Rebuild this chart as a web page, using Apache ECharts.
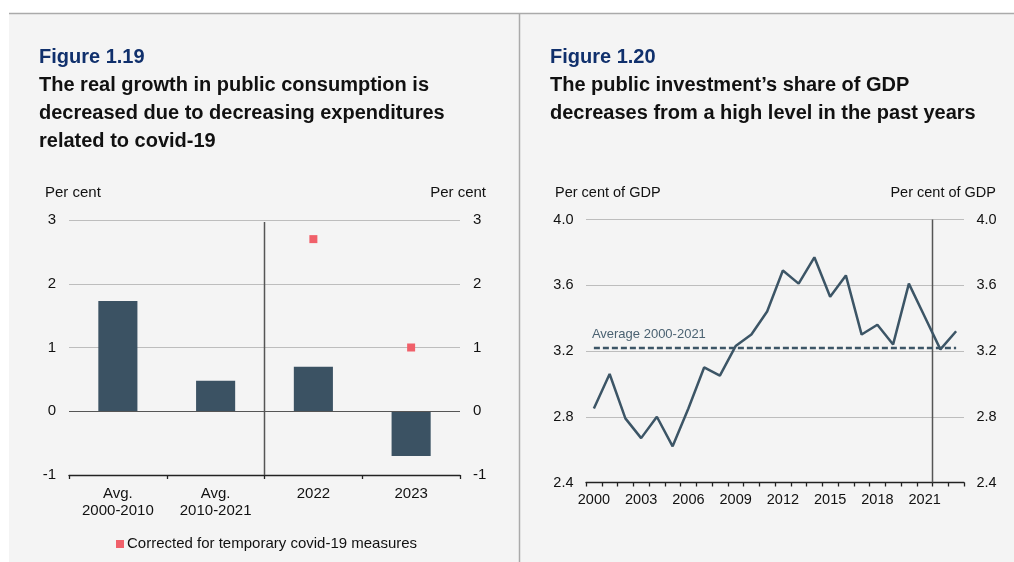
<!DOCTYPE html>
<html>
<head>
<meta charset="utf-8">
<title>Figures 1.19 and 1.20</title>
<script src="https://cdn.jsdelivr.net/npm/echarts@6/dist/echarts.min.js"></script>
<style>
  html, body { margin: 0; padding: 0; background: #ffffff; }
  #chart { width: 1014px; height: 562px; }
</style>
</head>
<body>
<div id="chart"></div>
<script>
// Figure 1.19: real growth in public consumption (per cent)
const consumptionCategories = ['Avg.\n2000-2010', 'Avg.\n2010-2021', '2022', '2023'];
const consumptionGrowth = [1.73, 0.48, 0.70, -0.70];
const correctedGrowth = [null, null, 2.70, 1.00];
const consumptionTicks = { min: -1, max: 3, interval: 1 };

// Figure 1.20: public investment, per cent of GDP
const investmentYears = ['2000', '2001', '2002', '2003', '2004', '2005', '2006', '2007',
  '2008', '2009', '2010', '2011', '2012', '2013', '2014', '2015', '2016', '2017',
  '2018', '2019', '2020', '2021', '2022', '2023'];
const investmentShare = [2.85, 3.06, 2.79, 2.67, 2.80, 2.62, 2.85, 3.10, 3.05, 3.23,
  3.30, 3.44, 3.69, 3.61, 3.77, 3.53, 3.66, 3.30, 3.36, 3.24, 3.61, 3.41, 3.21, 3.32];
const investmentAverage = 3.22;
const investmentTicks = { min: 2.4, max: 4.0, interval: 0.4 };

// Position of the forecast divider, counted in category widths from the left edge
const consumptionDividerAt = 2;
const investmentDividerAt = 22;

const FONT = '"Liberation Sans", Arial, Helvetica, sans-serif';
const DARK = '#3b5263';
const RED = '#f0606a';
const GRIDLINE = '#bdbdbd';

const chart = echarts.init(document.getElementById('chart'), null, { renderer: 'canvas' });

function headingText(x, y, text, color) {
  return {
    type: 'text', left: x, top: y - 9,
    style: { text: text, fill: color, font: 'bold 20px ' + FONT, textVerticalAlign: 'top' }
  };
}
function unitText(x, y, text, align, size) {
  return {
    type: 'text', x: x, y: y,
    style: { text: text, fill: '#111', font: size + 'px ' + FONT, align: align, verticalAlign: 'middle' }
  };
}

const option = {
  backgroundColor: '#ffffff',
  animation: false,
  textStyle: { fontFamily: FONT },
  graphic: [
    { type: 'rect', shape: { x: 9, y: 13, width: 1005, height: 549 }, style: { fill: '#f4f4f4' }, z: -10 },
    { type: 'line', shape: { x1: 9, y1: 13.5, x2: 1014, y2: 13.5 }, style: { stroke: '#aaaaaa', lineWidth: 1.5 }, z: -9 },
    { type: 'line', shape: { x1: 519.5, y1: 13, x2: 519.5, y2: 562 }, style: { stroke: '#aaaaaa', lineWidth: 1.5 }, z: -9 },
    headingText(39, 56, 'Figure 1.19', '#10306c'),
    headingText(39, 84.7, 'The real growth in public consumption is', '#111111'),
    headingText(39, 112.7, 'decreased due to decreasing expenditures', '#111111'),
    headingText(39, 140.7, 'related to covid-19', '#111111'),
    headingText(550, 56, 'Figure 1.20', '#10306c'),
    headingText(550, 84.7, 'The public investment\u2019s share of GDP', '#111111'),
    headingText(550, 112.7, 'decreases from a high level in the past years', '#111111'),
    unitText(45, 193, 'Per cent', 'left', 15),
    unitText(486, 193, 'Per cent', 'right', 15),
    unitText(555, 193, 'Per cent of GDP', 'left', 14.5),
    unitText(996, 193, 'Per cent of GDP', 'right', 14.5)
  ],
  legend: {
    data: [{ name: 'Corrected for temporary covid-19 measures', icon: 'rect' }],
    left: 116, top: 536.5, padding: 0,
    itemWidth: 8, itemHeight: 8, itemGap: 10,
    textStyle: { fontSize: 15, color: '#111', fontFamily: FONT, padding: [0, 0, 0, -2] },
    selectedMode: false
  },
  grid: [
    { left: 69, top: 220, width: 391, height: 255 },
    { left: 586, top: 219.5, width: 378, height: 263 }
  ],
  xAxis: [
    {
      type: 'category', gridIndex: 0, data: consumptionCategories, boundaryGap: true,
      axisLine: { onZero: false, lineStyle: { color: '#222', width: 1.3 } },
      axisTick: { show: true, length: 4, lineStyle: { color: '#222', width: 1.3 } },
      axisLabel: { color: '#111', fontSize: 15, lineHeight: 17, margin: 10, interval: 0 }
    },
    { type: 'value', gridIndex: 0, min: 0, max: consumptionCategories.length, show: false },
    {
      type: 'category', gridIndex: 1, data: investmentYears, boundaryGap: true,
      axisLine: { onZero: false, lineStyle: { color: '#222', width: 1.3 } },
      axisTick: { show: true, length: 4, interval: 0, lineStyle: { color: '#222', width: 1.3 } },
      axisLabel: { color: '#111', fontSize: 14.5, margin: 10, interval: 2 }
    },
    { type: 'value', gridIndex: 1, min: 0, max: investmentYears.length, show: false }
  ],
  yAxis: [
    {
      type: 'value', gridIndex: 0, position: 'left',
      min: consumptionTicks.min, max: consumptionTicks.max, interval: consumptionTicks.interval,
      axisLine: { show: false }, axisTick: { show: false },
      axisLabel: { color: '#111', fontSize: 15, margin: 13 },
      splitLine: { show: true, lineStyle: { color: GRIDLINE, width: 1 } }
    },
    {
      type: 'value', gridIndex: 0, position: 'right',
      min: consumptionTicks.min, max: consumptionTicks.max, interval: consumptionTicks.interval,
      axisLine: { show: false }, axisTick: { show: false },
      axisLabel: { color: '#111', fontSize: 15, margin: 13 },
      splitLine: { show: false }
    },
    {
      type: 'value', gridIndex: 1, position: 'left',
      min: investmentTicks.min, max: investmentTicks.max, interval: investmentTicks.interval,
      axisLine: { show: false }, axisTick: { show: false },
      axisLabel: { color: '#111', fontSize: 14.5, margin: 12.5, formatter: v => v.toFixed(1) },
      splitLine: { show: true, lineStyle: { color: GRIDLINE, width: 1 } }
    },
    {
      type: 'value', gridIndex: 1, position: 'right',
      min: investmentTicks.min, max: investmentTicks.max, interval: investmentTicks.interval,
      axisLine: { show: false }, axisTick: { show: false },
      axisLabel: { color: '#111', fontSize: 14.5, margin: 12.5, formatter: v => v.toFixed(1) },
      splitLine: { show: false }
    }
  ],
  series: [
    {
      name: 'Public consumption growth', type: 'bar',
      xAxisIndex: 0, yAxisIndex: 0,
      data: consumptionGrowth, barWidth: '40%',
      itemStyle: { color: DARK },
      z: 3,
      markLine: {
        silent: true, symbol: 'none', label: { show: false },
        lineStyle: { color: '#555', width: 1.2, type: 'solid' },
        data: [{ yAxis: 0 }]
      }
    },
    {
      name: 'Corrected for temporary covid-19 measures', type: 'scatter',
      xAxisIndex: 0, yAxisIndex: 0,
      data: correctedGrowth, symbol: 'rect', symbolSize: 8,
      itemStyle: { color: RED, opacity: 1 }, z: 5
    },
    {
      name: 'divider-1', type: 'line', xAxisIndex: 1, yAxisIndex: 0,
      data: [[consumptionDividerAt, consumptionTicks.min], [consumptionDividerAt, 2.97]],
      symbol: 'none', silent: true,
      lineStyle: { color: '#555', width: 1.5 }, z: 4
    },
    {
      name: 'Public investment', type: 'line',
      xAxisIndex: 2, yAxisIndex: 2,
      data: investmentShare, symbol: 'none',
      lineStyle: { color: '#3c5566', width: 2.5 },
      itemStyle: { color: '#3c5566' },
      z: 5,
      markLine: {
        silent: true, symbol: 'none',
        lineStyle: { color: '#3c5566', width: 2.3, type: [6, 3] },
        label: {
          show: true, position: 'insideStartTop', formatter: 'Average 2000-2021',
          color: '#4b6272', fontSize: 13, fontFamily: FONT, distance: [-2, 7]
        },
        data: [[
          { coord: [investmentYears[0], investmentAverage] },
          { coord: [investmentYears[investmentYears.length - 1], investmentAverage] }
        ]]
      }
    },
    {
      name: 'divider-2', type: 'line', xAxisIndex: 3, yAxisIndex: 2,
      data: [[investmentDividerAt, investmentTicks.min], [investmentDividerAt, investmentTicks.max]],
      symbol: 'none', silent: true,
      lineStyle: { color: '#555', width: 1.5 }, z: 4
    }
  ]
};

chart.setOption(option);
</script>
</body>
</html>
